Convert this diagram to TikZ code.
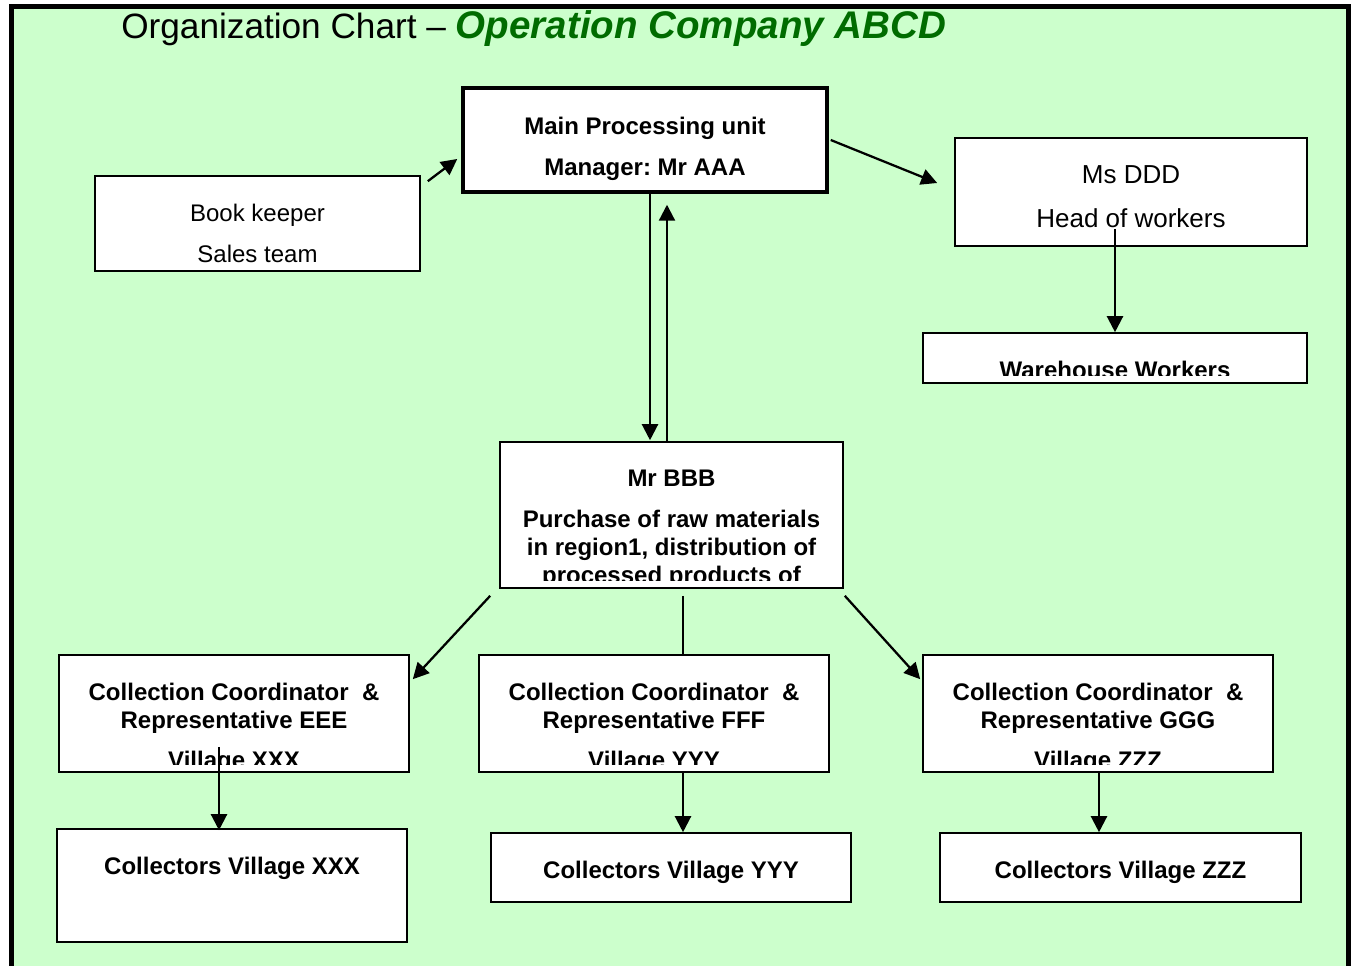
\documentclass[tikz,border=0pt]{standalone}
\usepackage{fontspec}
\setmainfont{Liberation Sans}
\usetikzlibrary{arrows.meta}

\definecolor{sheet}{RGB}{204,255,204}
\definecolor{titlegreen}{RGB}{0,108,0}

\newcommand\bodybold{\fontsize{18}{21}\selectfont\bfseries\frenchspacing}
\newcommand\bodyplain{\fontsize{18}{21}\selectfont\frenchspacing}
\newcommand\bodylarge{\fontsize{19.5}{23}\selectfont\frenchspacing}

\tikzset{
  box/.style={draw, fill=white, line width=1.2pt, inner sep=0pt},
  mainbox/.style={box, line width=2.6pt},
  % text starts a fixed distance below the top edge, overflow is cut off
  boxtext/.style 2 args={path picture={
      \clip ([yshift=5.5pt]path picture bounding box.south west)
        rectangle (path picture bounding box.north east);
      \node[anchor=north, align=center, inner sep=0pt, font=#1,
            minimum width=0pt, minimum height=0pt]
        at ([yshift=-20.25pt]path picture bounding box.north) {#2};}},
  arrow/.style={line width=1.7pt, -{Triangle[length=12pt,width=12pt]}},
  link/.style={line width=1.7pt}
}

\begin{document}
\begin{tikzpicture}[x=0.75pt, y=-0.75pt]

\useasboundingbox (0,0) rectangle (1354,966);

% sheet with heavy frame, open at the bottom
\fill[sheet] (11,7) rectangle (1348,966);
\draw[line width=3.75pt] (11,966) -- (11,7) -- (1348,7) -- (1348,966);

% ===== Title =====
\node[anchor=base west, inner sep=0pt] (title) at (121,39)
  {\fontsize{26.4}{28}\selectfont Organization Chart -- \textcolor{titlegreen}{\fontsize{28.9}{30}\selectfont\bfseries\itshape Operation Company ABCD}};

% ===== Top level =====
\node[mainbox, minimum width=273pt, minimum height=78pt,
      boxtext={\bodybold}{Main Processing unit\\[9.75pt]Manager: Mr AAA}] (main) at (645,140) {};

\node[box, minimum width=243.75pt, minimum height=71.25pt,
      boxtext={\bodyplain}{Book keeper\\[9.75pt]Sales team}] (book) at (257.5,223.5) {};

\node[box, minimum width=264pt, minimum height=81pt,
      boxtext={\bodylarge}{Ms DDD\\[10pt]Head of workers}] (ddd) at (1131,192) {};

\node[box, minimum width=288pt, minimum height=37.5pt,
      boxtext={\bodybold}{Warehouse Workers}] (ware) at (1115,358) {};

% ===== Purchasing =====
\node[box, minimum width=257.25pt, minimum height=109.5pt,
      boxtext={\bodybold}{Mr BBB\\[9.75pt]Purchase of raw materials\\in region1, distribution of\\processed products of}] (bbb) at (671.5,515) {};

% ===== Coordinators =====
\node[box, minimum width=262.5pt, minimum height=87.75pt,
      boxtext={\bodybold}{Collection Coordinator\ \ \&\\Representative EEE\\[9pt]Village XXX}] (eee) at (234,713.5) {};
\node[box, minimum width=262.5pt, minimum height=87.75pt,
      boxtext={\bodybold}{Collection Coordinator\ \ \&\\Representative FFF\\[9pt]Village YYY}] (fff) at (654,713.5) {};
\node[box, minimum width=262.5pt, minimum height=87.75pt,
      boxtext={\bodybold}{Collection Coordinator\ \ \&\\Representative GGG\\[9pt]Village ZZZ}] (ggg) at (1098,713.5) {};

% ===== Collectors =====
\node[box, minimum width=262.5pt, minimum height=84.75pt,
      boxtext={\bodybold}{Collectors Village XXX}] (cx) at (232,885.5) {};
\node[box, minimum width=270pt, minimum height=51.75pt,
      boxtext={\bodybold}{Collectors Village YYY}] (cy) at (671,867.5) {};
\node[box, minimum width=270.75pt, minimum height=51.75pt,
      boxtext={\bodybold}{Collectors Village ZZZ}] (cz) at (1120.5,867.5) {};

% ===== Connectors =====
\draw[arrow] ([shift={(7,6)}]book.north east) -- ([shift={(-4,19)}]main.west);
\draw[arrow] ([shift={(2,0)}]main.east) -- ([shift={(-17,-9)}]ddd.west);
\draw[arrow] ([shift={(5,0)}]main.south) -- ([shift={(-21.5,-1)}]bbb.north);
\draw[arrow] ([shift={(-4.5,0)}]bbb.north) -- ([shift={(22,11)}]main.south);
\draw[arrow] ([shift={(-16,-18)}]ddd.south) -- (ware.north);

\draw[arrow] ([shift={(-9,7)}]bbb.south west) -- ([shift={(3,25)}]eee.north east);
\draw[link]  ([shift={(11.5,7)}]bbb.south) -- ([shift={(29,0)}]fff.north);
\draw[arrow] ([shift={(1,7)}]bbb.south east) -- ([shift={(-2,25)}]ggg.north west);

\draw[arrow] ([shift={(-15,-26)}]eee.south) -- ([shift={(-13,2)}]cx.north);
\draw[arrow] ([shift={(29,0)}]fff.south) -- ([shift={(12,0)}]cy.north);
\draw[arrow] ([shift={(1,0)}]ggg.south) -- ([shift={(-21.5,0)}]cz.north);

\end{tikzpicture}
\end{document}
